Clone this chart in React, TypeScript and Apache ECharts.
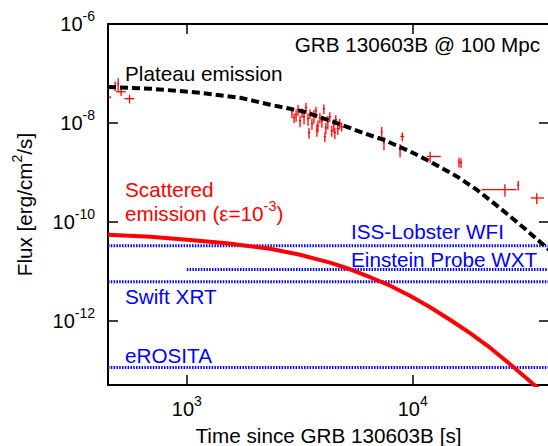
import React, { useEffect, useRef } from "react";
import * as echarts from "echarts";

const FONT = "'Liberation Sans', Arial, Helvetica, sans-serif";
const L = (v: number) => Math.log10(v);

// axis ranges and ticks
const timeRange = [448, 40100];
const fluxRange = [5.1e-14, 1e-6];
const xTickValues = [1e3, 1e4];
const yTickValues = [1e-12, 1e-10, 1e-8, 1e-6];

// plateau emission model (black dashed)
const plateauTime = [448, 689, 1146, 1722, 2339, 3281, 4613, 6039, 7413, 9727, 11910, 15670, 19190, 24320, 31400, 40100];
const plateauFlux = [5.33e-8, 4.93e-8, 4.09e-8, 3.24e-8, 2.34e-8, 1.71e-8, 1.0e-8, 6.28e-9, 4.6e-9, 2.67e-9, 1.67e-9, 8.34e-10, 4.5e-10, 1.92e-10, 7.3e-11, 2.75e-11];

// scattered emission model (red solid)
const scatterTime = [448, 689, 1003, 1507, 2337, 3171, 4303, 5280, 6477, 7944, 9727, 11940, 14620, 17940, 21980, 26980, 34430, 39720];
const scatterFlux = [5.53e-11, 5.05e-11, 4.39e-11, 3.73e-11, 2.89e-11, 2.18e-11, 1.51e-11, 1.11e-11, 7.67e-12, 5.17e-12, 3.24e-12, 1.9e-12, 1.06e-12, 5.68e-13, 2.89e-13, 1.34e-13, 5.16e-14, 2.95e-14];

// instrument sensitivities (blue dotted)
const sensNames = ["ISS-Lobster WFI", "Einstein Probe WXT", "Swift XRT", "eROSITA"];
const sensFlux = [3.3e-11, 1.1e-11, 6.2e-12, 1.15e-13];
const sensStart = [448, 1000, 448, 448];

// observed X-ray data (red crosses)
const obsTime = [458, 482, 497, 512, 558,
  2920, 2985, 3046, 3108, 3171, 3237, 3303, 3371, 3439, 3510, 3581, 3654, 3729, 3805, 3883, 3962, 4043, 4126, 4210, 4296, 4384, 4473, 4565, 4658, 4753, 4850, 3475, 3767, 4085, 4520,
  7290, 7460, 8995, 8790, 11940, 16030, 16360, 25590, 29310, 35400];
const obsFlux = [3.32e-8, 5.68e-8, 6.2e-8, 4.28e-8, 3.1e-8,
  1.69e-8, 1.28e-8, 1.47e-8, 1.86e-8, 1.11e-8, 1.61e-8, 1.34e-8, 2.04e-8, 1.22e-8, 1.54e-8, 9.7e-9, 1.4e-8, 1.77e-8, 8.8e-9, 1.28e-8, 1.11e-8, 1.94e-8, 8.0e-9, 1.06e-8, 1.34e-8, 7.0e-9, 9.25e-9, 1.17e-8, 7.7e-9, 9.7e-9, 8.4e-9, 6.4e-9, 7.3e-9, 5.3e-9, 6.4e-9,
  6.67e-9, 4.0e-9, 5.36e-9, 2.89e-9, 2.11e-9, 1.62e-9, 1.58e-9, 4.5e-10, 5.53e-10, 3.06e-10];
const obsTimeErrMinus = [0.01, 0.01, 0.01, 0.05, 0.05,
  0.012, 0.012, 0.012, 0.012, 0.012, 0.012, 0.012, 0.012, 0.012, 0.012, 0.012, 0.012, 0.012, 0.012, 0.012, 0.012, 0.012, 0.012, 0.012, 0.012, 0.012, 0.012, 0.012, 0.012, 0.012, 0.012, 0.012, 0.012, 0.012, 0.012,
  0.01, 0.01, 0.02, 0.01, 0.034, 0.01, 0.01, 0.211, 0.01, 0.06];
const obsTimeErrPlus = [0.01, 0.01, 0.01, 0.05, 0.05,
  0.012, 0.012, 0.012, 0.012, 0.012, 0.012, 0.012, 0.012, 0.012, 0.012, 0.012, 0.012, 0.012, 0.012, 0.012, 0.012, 0.012, 0.012, 0.012, 0.012, 0.012, 0.012, 0.012, 0.012, 0.012, 0.012, 0.012, 0.012, 0.012, 0.012,
  0.01, 0.01, 0.02, 0.01, 0.114, 0.01, 0.01, 0.127, 0.01, 0.076];
const obsFluxErr = [0.02, 0.22, 0.3, 0.18, 0.2,
  0.25, 0.22, 0.28, 0.24, 0.26, 0.22, 0.3, 0.25, 0.28, 0.22, 0.25, 0.3, 0.2, 0.27, 0.24, 0.28, 0.22, 0.26, 0.3, 0.23, 0.25, 0.28, 0.22, 0.26, 0.24, 0.2, 0.25, 0.28, 0.22, 0.26,
  0.25, 0.3, 0.2, 0.3, 0.25, 0.22, 0.22, 0.28, 0.22, 0.25];

const tickRich = {
  b: { fontSize: 20, fontFamily: FONT, color: "#000" },
  s: { fontSize: 14, fontFamily: FONT, color: "#000", padding: [0, 0, 16, 0] },
};
const tickFormatter = (v: number) => `{b|10}{s|${Math.round(v)}}`;

function App() {
  const ref = useRef<HTMLDivElement>(null);
  useEffect(() => {
    document.documentElement.style.overflow = "hidden";
    document.body.style.overflow = "hidden";
    const chart = echarts.init(ref.current!, null, { renderer: "svg" });

    const xMin = L(timeRange[0]);
    const xMax = L(timeRange[1]);
    const yMin = L(fluxRange[0]);
    const yMax = L(fluxRange[1]);
    const xTicks = xTickValues.map(L);
    const yTicks = yTickValues.map(L);

    const axisLine = { show: true, lineStyle: { color: "#000", width: 2 } };
    const tickStyle = { color: "#000", width: 1.5 };

    const obsData = obsTime.map((t, i) => [
      L(t),
      L(obsFlux[i]),
      L(t * (1 - obsTimeErrMinus[i])),
      L(t * (1 + obsTimeErrPlus[i])),
      L(obsFlux[i] * (1 - obsFluxErr[i])),
      L(obsFlux[i] * (1 + obsFluxErr[i])),
    ]);

    const sensSeries = sensNames.map((name, i) => ({
      name,
      type: "line",
      data: [
        [L(sensStart[i]), L(sensFlux[i])],
        [xMax, L(sensFlux[i])],
      ],
      showSymbol: false,
      symbol: "none",
      lineStyle: { color: "#0000ff", width: 3, type: [1.5, 1.3], cap: "butt" },
      z: 2,
      silent: true,
    }));

    const textBase = (x: number, y: number, text: string, fill: string, align = "left", rich?: any) => ({
      type: "text",
      x,
      y,
      z: 100,
      style: {
        text,
        fill,
        fontSize: 20.7,
        fontFamily: FONT,
        align,
        verticalAlign: "middle",
        textAlign: align,
        textVerticalAlign: "middle",
        rich,
      },
    });

    const option: any = {
      animation: false,
      backgroundColor: "#fff",
      grid: { left: 108, top: 24, width: 441, height: 361, containLabel: false, outerBoundsMode: "none" },
      xAxis: [
        {
          type: "value",
          min: xMin,
          max: xMax,
          position: "bottom",
          axisLine,
          axisTick: { show: true, inside: true, length: 10, customValues: xTicks, lineStyle: tickStyle },
          axisLabel: { show: true, customValues: xTicks, formatter: tickFormatter, rich: tickRich, margin: 9 },
          splitLine: { show: false },
          name: "Time since GRB 130603B [s]",
          nameLocation: "middle",
          nameGap: 40,
          nameTextStyle: { fontSize: 20.7, fontFamily: FONT, color: "#000" },
        },
        {
          type: "value",
          min: xMin,
          max: xMax,
          position: "top",
          axisLine,
          axisTick: { show: true, inside: true, length: 10, customValues: xTicks, lineStyle: tickStyle },
          axisLabel: { show: false },
          splitLine: { show: false },
        },
      ],
      yAxis: [
        {
          type: "value",
          min: yMin,
          max: yMax,
          position: "left",
          axisLine,
          axisTick: { show: true, inside: true, length: 10, customValues: yTicks, lineStyle: tickStyle },
          axisLabel: { show: true, customValues: yTicks, formatter: tickFormatter, rich: tickRich, margin: 13 },
          splitLine: { show: false },
          name: "Flux [erg/cm{s|2}/s]",
          nameLocation: "middle",
          nameGap: 70,
          nameTextStyle: {
            fontSize: 20.7,
            fontFamily: FONT,
            color: "#000",
            rich: { s: { fontSize: 14, fontFamily: FONT, color: "#000", padding: [0, 0, 14, 0] } },
          },
        },
        {
          type: "value",
          min: yMin,
          max: yMax,
          position: "right",
          axisLine,
          axisTick: { show: true, inside: true, length: 10, customValues: yTicks, lineStyle: tickStyle },
          axisLabel: { show: false },
          splitLine: { show: false },
        },
      ],
      series: [
        ...sensSeries,
        {
          name: "Swift data",
          type: "custom",
          coordinateSystem: "cartesian2d",
          data: obsData,
          encode: { x: [0, 2, 3], y: [1, 4, 5] },
          z: 3,
          silent: true,
          renderItem: (params: any, api: any) => {
            const y = api.value(1);
            const x = api.value(0);
            const a = api.coord([api.value(2), y]);
            const b = api.coord([api.value(3), y]);
            const c = api.coord([x, api.value(4)]);
            const d = api.coord([x, api.value(5)]);
            const style = { stroke: "#ff0000", lineWidth: 1.3 };
            return {
              type: "group",
              children: [
                { type: "line", shape: { x1: a[0], y1: a[1], x2: b[0], y2: b[1] }, style },
                { type: "line", shape: { x1: c[0], y1: c[1], x2: d[0], y2: d[1] }, style },
              ],
            };
          },
        },
        {
          name: "Scattered emission",
          type: "line",
          data: scatterTime.map((t, i) => [L(t), L(scatterFlux[i])]),
          showSymbol: false,
          symbol: "none",
          smooth: false,
          lineStyle: { color: "#ff0000", width: 4, join: "round" },
          z: 4,
          silent: true,
        },
        {
          name: "Plateau emission",
          type: "line",
          data: plateauTime.map((t, i) => [L(t), L(plateauFlux[i])]),
          showSymbol: false,
          symbol: "none",
          smooth: false,
          lineStyle: { color: "#000", width: 4, type: [8, 4], cap: "butt" },
          z: 5,
          silent: true,
        },
      ],
      graphic: {
        elements: [
          textBase(540, 44, "GRB 130603B @ 100 Mpc", "#000", "right"),
          textBase(125, 73, "Plateau emission", "#000"),
          textBase(125, 189, "Scattered", "#ff0000"),
          textBase(125, 213, "emission (ε=10{s|-3})", "#ff0000", "left", {
            s: { fontSize: 14.5, fontFamily: FONT, color: "#ff0000", padding: [0, 0, 15, 0] },
          }),
          textBase(351, 231, sensNames[0], "#0000ff"),
          textBase(351, 259, sensNames[1], "#0000ff"),
          textBase(125, 296, sensNames[2], "#0000ff"),
          textBase(125, 355.5, sensNames[3], "#0000ff"),
        ],
      },
    };

    chart.setOption(option);
    return () => chart.dispose();
  }, []);
  return <div ref={ref} style={{ position: "fixed", left: 0, top: 0, width: 600, height: 446 }} />;
}

export default App;
